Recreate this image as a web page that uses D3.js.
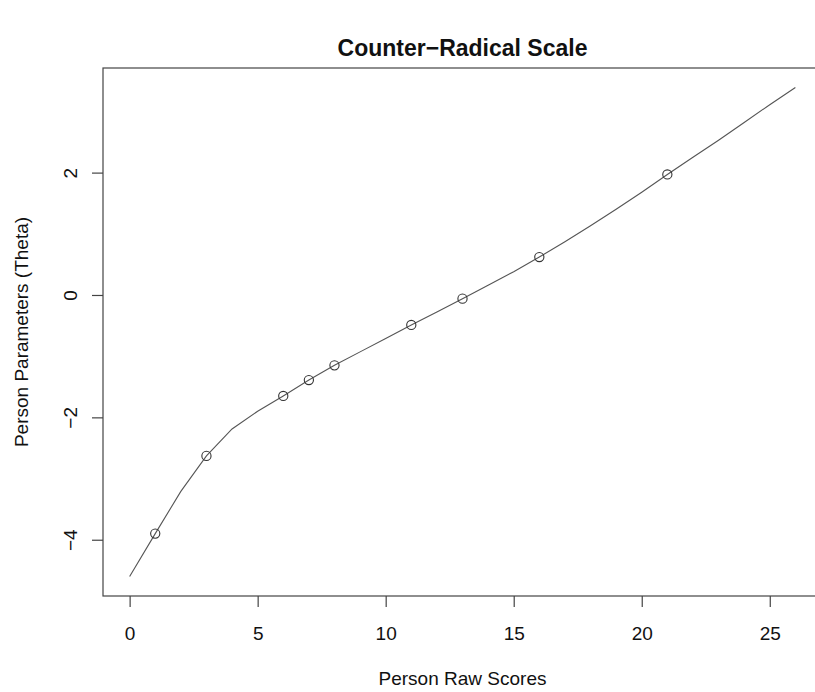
<!DOCTYPE html>
<html>
<head>
<meta charset="utf-8">
<script src="https://cdn.jsdelivr.net/npm/d3@7"></script>
<style>
  body { margin: 0; background: #fff; }
  text { font-family: "Liberation Sans", Arial, sans-serif; }
</style>
</head>
<body>
<div id="chart"></div>
<script>
// raw scores 0..26 and the person parameter curve
var rawScores = [0, 1, 2, 3, 4, 5, 6, 7, 8, 9, 10, 11, 12, 13, 14, 15, 16, 17, 18, 19, 20, 21, 22, 23, 24, 25, 26];
var theta = [-4.60, -3.90, -3.21, -2.63, -2.19, -1.90, -1.65, -1.39, -1.15, -0.93, -0.71, -0.49, -0.28, -0.06, 0.16, 0.38, 0.62, 0.87, 1.13, 1.40, 1.68, 1.97, 2.25, 2.53, 2.82, 3.11, 3.39];
// observed scores (circles)
var observedScores = [1, 3, 6, 7, 8, 11, 13, 16, 21];
var xTicks = [0, 5, 10, 15, 20, 25];
var yTicks = [-4, -2, 0, 2];

var W = 815, H = 692;
var margin = { top: 68, right: -7, bottom: 96, left: 103 };

var svg = d3.select("#chart").append("svg")
    .attr("width", W)
    .attr("height", H);

// R style 4% extension
var xr = d3.extent(rawScores), yr = d3.extent(theta);
var xpad = (xr[1] - xr[0]) * 0.04, ypad = (yr[1] - yr[0]) * 0.04;

var x = d3.scaleLinear()
    .domain([xr[0] - xpad, xr[1] + xpad])
    .range([margin.left, W - margin.right]);
var y = d3.scaleLinear()
    .domain([yr[0] - ypad, yr[1] + ypad])
    .range([H - margin.bottom, margin.top]);

// box
svg.append("rect")
    .attr("x", margin.left)
    .attr("y", margin.top)
    .attr("width", W - margin.right - margin.left)
    .attr("height", H - margin.bottom - margin.top)
    .attr("fill", "none")
    .attr("stroke", "#444")
    .attr("stroke-width", 1.2);

// x axis
var xAxis = svg.append("g")
    .attr("transform", "translate(0," + (H - margin.bottom) + ")")
    .call(d3.axisBottom(x).tickValues(xTicks).tickSize(11).tickSizeOuter(0));
xAxis.select(".domain").remove();
xAxis.selectAll(".tick line").attr("stroke", "#444").attr("stroke-width", 1.2);
xAxis.selectAll(".tick text")
    .attr("font-size", "19px")
    .attr("fill", "#111")
    .attr("dy", null)
    .attr("y", 44);

// y axis
var yAxis = svg.append("g")
    .attr("transform", "translate(" + margin.left + ",0)")
    .call(d3.axisLeft(y).tickValues(yTicks).tickSize(11).tickSizeOuter(0)
        .tickFormat(function(d) { return d < 0 ? "\u2212" + Math.abs(d) : d; }));
yAxis.select(".domain").remove();
yAxis.selectAll(".tick line").attr("stroke", "#444").attr("stroke-width", 1.2);
yAxis.selectAll(".tick text")
    .attr("font-size", "19px")
    .attr("fill", "#111")
    .attr("text-anchor", "middle")
    .attr("dy", null)
    .attr("x", null)
    .attr("transform", "translate(-26,0) rotate(-90)");

// curve
svg.append("path")
    .datum(rawScores.map(function(d, i) { return [d, theta[i]]; }))
    .attr("fill", "none")
    .attr("stroke", "#555")
    .attr("stroke-width", 1.1)
    .attr("d", d3.line()
        .x(function(d) { return x(d[0]); })
        .y(function(d) { return y(d[1]); }));

// observed points
svg.selectAll(".pt")
    .data(observedScores)
    .join("circle")
    .attr("cx", function(d) { return x(d); })
    .attr("cy", function(d) { return y(theta[rawScores.indexOf(d)]); })
    .attr("r", 4.6)
    .attr("fill", "none")
    .attr("stroke", "#333")
    .attr("stroke-width", 1.1);

// title
svg.append("text")
    .attr("x", (margin.left + W - margin.right) / 2)
    .attr("y", 56)
    .attr("text-anchor", "middle")
    .attr("font-size", "23px")
    .attr("font-weight", "bold")
    .attr("fill", "#111")
    .text("Counter\u2212Radical Scale");

// x label
svg.append("text")
    .attr("x", (margin.left + W - margin.right) / 2)
    .attr("y", 685)
    .attr("text-anchor", "middle")
    .attr("font-size", "19px")
    .attr("fill", "#111")
    .text("Person Raw Scores");

// y label
svg.append("text")
    .attr("transform", "translate(28," + ((margin.top + H - margin.bottom) / 2) + ") rotate(-90)")
    .attr("text-anchor", "middle")
    .attr("font-size", "19px")
    .attr("fill", "#111")
    .text("Person Parameters (Theta)");
</script>
</body>
</html>
